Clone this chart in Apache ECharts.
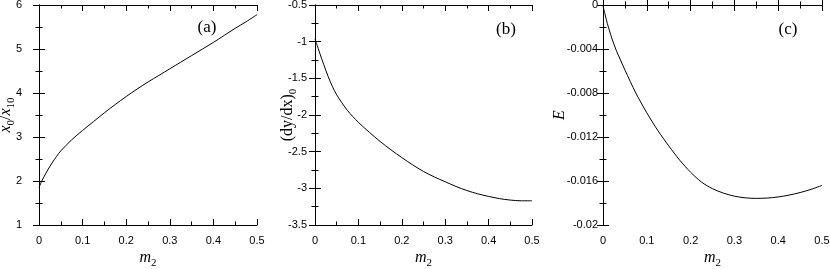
<!DOCTYPE html>
<html>
<head>
<meta charset="utf-8">
<title>m2 panels</title>
<script src="https://cdn.jsdelivr.net/npm/echarts@6/dist/echarts.min.js"></script>
<style>
  body { margin: 0; padding: 0; background: #fff; }
  #main { width: 830px; height: 269px; }
</style>
</head>
<body>
<div id="main"></div>
<script>
// values
var m2 = [0, 0.005, 0.01, 0.02, 0.03, 0.04, 0.05, 0.075, 0.1, 0.125, 0.15, 0.175, 0.2, 0.225, 0.25, 0.275, 0.3, 0.325, 0.35, 0.375, 0.4, 0.425, 0.45, 0.475, 0.5];
var xRatio = [1.85, 1.97, 2.07, 2.25, 2.41, 2.555, 2.685, 2.935, 3.15, 3.35, 3.55, 3.74, 3.92, 4.09, 4.25, 4.40, 4.55, 4.70, 4.85, 5.00, 5.15, 5.31, 5.47, 5.62, 5.78];
var slope = [-0.965, -1.05, -1.14, -1.31, -1.47, -1.61, -1.725, -1.94, -2.10, -2.235, -2.36, -2.475, -2.58, -2.68, -2.77, -2.845, -2.91, -2.975, -3.03, -3.075, -3.11, -3.14, -3.16, -3.17, -3.17];
var energy = [-0.0001, -0.0009, -0.0017, -0.0030, -0.0041, -0.0050, -0.0059, -0.0080, -0.0098, -0.0114, -0.0128, -0.0141, -0.0152, -0.0161, -0.0167, -0.0171, -0.01738, -0.01753, -0.01758, -0.01755, -0.01745, -0.01728, -0.01705, -0.01676, -0.0164];
var xTicks = [0, 0.5, 0.1];              // min, max, step
var aTicks = [1, 6, 1];
var bTicks = [-3.5, -0.5, 0.5];
var cTicks = [-0.02, 0, 0.004];

var chart = echarts.init(document.getElementById('main'));

var serif = '"Liberation Serif", "Times New Roman", serif';
var sans = '"Liberation Sans", Arial, sans-serif';
var black = '#000';

var nameRich = {
  i: {fontFamily: serif, fontStyle: 'italic', fontSize: 16, color: black, lineHeight: 22},
  r: {fontFamily: serif, fontSize: 16, color: black, lineHeight: 22},
  s: {fontFamily: serif, fontSize: 11, color: black, verticalAlign: 'bottom'}
};

var grids = [
  {left: 39, top: 5, width: 218, height: 220, outerBoundsMode: 'none'},
  {left: 315, top: 5, width: 217, height: 220, outerBoundsMode: 'none'},
  {left: 603, top: 5, width: 219, height: 220, outerBoundsMode: 'none'}
];

function pairs(ys) {
  return m2.map(function (x, i) { return [x, ys[i]]; });
}

function tickFmt(v) {
  return String(+v.toFixed(4));
}

var xAxis = [];
var yAxis = [];
var yDefs = [
  {t: aTicks, name: '{i|x}{s|0}{r|/}{i|x}{s|10}', gap: 22, margin: 17},
  {t: bTicks, name: '{r|(dy/dx)}{s|0}', gap: 16, margin: 8},
  {t: cTicks, name: '{i|E}', gap: 32, margin: 5}
];

grids.forEach(function (g, k) {
  var common = {
    type: 'value',
    gridIndex: k,
    min: xTicks[0],
    max: xTicks[1],
    interval: xTicks[2],
    splitLine: {show: false},
    axisLine: {lineStyle: {color: black, width: 1}},
    axisTick: {inside: true, length: 6, lineStyle: {color: black}},
    minorTick: {show: true, splitNumber: 2, length: 3.5, lineStyle: {color: black}}
  };
  xAxis.push(Object.assign({}, common, {
    position: 'bottom',
    axisLabel: {color: black, fontFamily: sans, fontSize: 11, margin: 10, formatter: tickFmt},
    name: '{i|m}{s|2}',
    nameLocation: 'middle',
    nameGap: 22,
    nameMoveOverlap: false,
    nameTextStyle: {rich: nameRich}
  }));
  xAxis.push(Object.assign({}, common, {position: 'top', axisLabel: {show: false}}));

  var d = yDefs[k];
  var ycommon = {
    type: 'value',
    gridIndex: k,
    min: d.t[0],
    max: d.t[1],
    interval: d.t[2],
    splitLine: {show: false},
    axisLine: {lineStyle: {color: black, width: 1}},
    axisTick: {inside: true, length: 6, lineStyle: {color: black}},
    minorTick: {show: true, splitNumber: 2, length: 3.5, lineStyle: {color: black}}
  };
  yAxis.push(Object.assign({}, ycommon, {
    position: 'left',
    axisLabel: {color: black, fontFamily: sans, fontSize: 11, margin: d.margin, formatter: tickFmt},
    name: d.name,
    nameLocation: 'middle',
    nameRotate: 90,
    nameGap: d.gap,
    nameMoveOverlap: false,
    nameTextStyle: {rich: nameRich}
  }));
  yAxis.push(Object.assign({}, ycommon, {position: 'right', axisLabel: {show: false}}));
});

var curves = [xRatio, slope, energy];
var series = curves.map(function (ys, k) {
  return {
    type: 'line',
    xAxisIndex: k * 2,
    yAxisIndex: k * 2,
    data: pairs(ys),
    smooth: 0.3,
    showSymbol: false,
    lineStyle: {color: black, width: 1},
    silent: true
  };
});

var tags = [['(a)', 207, 28], ['(b)', 506, 30], ['(c)', 788, 30]];

chart.setOption({
  animation: false,
  grid: grids,
  xAxis: xAxis,
  yAxis: yAxis,
  series: series,
  graphic: tags.map(function (t) {
    return {
      type: 'text',
      x: t[1],
      y: t[2],
      style: {text: t[0], fontFamily: serif, fontSize: 17, fill: black, align: 'center', verticalAlign: 'middle'}
    };
  })
});
</script>
</body>
</html>
